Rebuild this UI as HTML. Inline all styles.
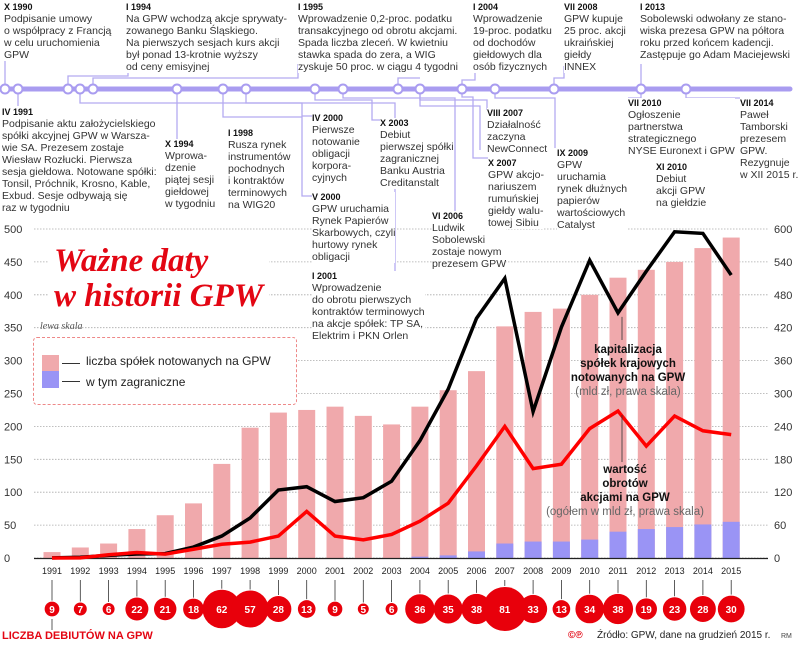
<!DOCTYPE html>
<html><head><meta charset="utf-8">
<style>
body{margin:0;width:805px;height:656px;overflow:hidden;background:#fff;font-family:"Liberation Sans",sans-serif;position:relative}
.b{position:absolute;font-size:10.5px;line-height:12px;color:#333;background:#fff;white-space:nowrap}
.b b{display:block;font-size:9px;color:#111;line-height:11px}
svg{position:absolute;left:0;top:0}
</style></head><body>
<svg id="chart" width="805" height="656"></svg>

<div class="b" style="left:4px;top:2px"><b>X 1990</b>Podpisanie umowy<br>o współpracy z Francją<br>w celu uruchomienia<br>GPW</div>
<div class="b" style="left:126px;top:2px"><b>I 1994</b>Na GPW wchodzą akcje sprywaty-<br>zowanego Banku Śląskiego.<br>Na pierwszych sesjach kurs akcji<br>był ponad 13-krotnie wyższy<br>od ceny emisyjnej</div>
<div class="b" style="left:298px;top:2px"><b>I 1995</b>Wprowadzenie 0,2-proc. podatku<br>transakcyjnego od obrotu akcjami.<br>Spada liczba zleceń. W kwietniu<br>stawka spada do zera, a WIG<br>zyskuje 50 proc. w ciągu 4 tygodni</div>
<div class="b" style="left:473px;top:2px"><b>I 2004</b>Wprowadzenie<br>19-proc. podatku<br>od dochodów<br>giełdowych dla<br>osób fizycznych</div>
<div class="b" style="left:564px;top:2px"><b>VII 2008</b>GPW kupuje<br>25 proc. akcji<br>ukraińskiej<br>giełdy<br>INNEX</div>
<div class="b" style="left:640px;top:2px"><b>I 2013</b>Sobolewski odwołany ze stano-<br>wiska prezesa GPW na półtora<br>roku przed końcem kadencji.<br>Zastępuje go Adam Maciejewski</div>

<div class="b" style="left:2px;top:107px"><b>IV 1991</b>Podpisanie aktu założycielskiego<br>spółki akcyjnej GPW w Warsza-<br>wie SA. Prezesem zostaje<br>Wiesław Rozłucki. Pierwsza<br>sesja giełdowa. Notowane spółki:<br>Tonsil, Próchnik, Krosno, Kable,<br>Exbud. Sesje odbywają się<br>raz w tygodniu</div>
<div class="b" style="left:165px;top:139px"><b>X 1994</b>Wprowa-<br>dzenie<br>piątej sesji<br>giełdowej<br>w tygodniu</div>
<div class="b" style="left:228px;top:128px"><b>I 1998</b>Rusza rynek<br>instrumentów<br>pochodnych<br>i kontraktów<br>terminowych<br>na WIG20</div>
<div class="b" style="left:312px;top:113px"><b>IV 2000</b>Pierwsze<br>notowanie<br>obligacji<br>korpora-<br>cyjnych</div>
<div class="b" style="left:312px;top:192px"><b>V 2000</b>GPW uruchamia<br>Rynek Papierów<br>Skarbowych, czyli<br>hurtowy rynek<br>obligacji</div>
<div class="b" style="left:312px;top:271px"><b>I 2001</b>Wprowadzenie<br>do obrotu pierwszych<br>kontraktów terminowych<br>na akcje spółek: TP SA,<br>Elektrim i PKN Orlen</div>
<div class="b" style="left:380px;top:118px"><b>X 2003</b>Debiut<br>pierwszej spółki<br>zagranicznej<br>Banku Austria<br>Creditanstalt</div>
<div class="b" style="left:432px;top:211px"><b>VI 2006</b>Ludwik<br>Sobolewski<br>zostaje nowym<br>prezesem GPW</div>
<div class="b" style="left:487px;top:108px"><b>VIII 2007</b>Działalność<br>zaczyna<br>NewConnect</div>
<div class="b" style="left:488px;top:158px"><b>X 2007</b>GPW akcjo-<br>nariuszem<br>rumuńskiej<br>giełdy walu-<br>towej Sibiu</div>
<div class="b" style="left:557px;top:148px"><b>IX 2009</b>GPW<br>uruchamia<br>rynek dłużnych<br>papierów<br>wartościowych<br>Catalyst</div>
<div class="b" style="left:628px;top:98px"><b>VII 2010</b>Ogłoszenie<br>partnerstwa<br>strategicznego<br>NYSE Euronext i GPW</div>
<div class="b" style="left:656px;top:162px"><b>XI 2010</b>Debiut<br>akcji GPW<br>na giełdzie</div>
<div class="b" style="left:740px;top:98px"><b>VII 2014</b>Paweł<br>Tamborski<br>prezesem<br>GPW.<br>Rezygnuje<br>w XII 2015 r.</div>

<div style="position:absolute;left:48px;top:244px;font-family:'Liberation Serif',serif;font-style:italic;font-weight:bold;color:#e30613;font-size:33px;line-height:35px;background:#fff;padding:0 6px">Ważne daty<br>w historii GPW</div>
<div style="position:absolute;left:40px;top:321px;font-family:'Liberation Serif',serif;font-style:italic;font-size:10px;color:#555">lewa skala</div>
<div style="position:absolute;left:33px;top:337px;width:262px;height:66px;border:1px dashed #e88;border-radius:4px;background:#fff">
 <div style="position:absolute;left:8px;top:17px;width:17px;height:16px;background:#f0a9ac"></div>
 <div style="position:absolute;left:8px;top:33px;width:17px;height:17px;background:#9a94f5"></div>
 <div style="position:absolute;left:28px;top:25px;width:18px;border-top:1px solid #333"></div>
 <div style="position:absolute;left:28px;top:43px;width:18px;border-top:1px solid #333"></div>
 <div style="position:absolute;left:52px;top:16px;font-size:12px;color:#222">liczba spółek notowanych na GPW</div>
 <div style="position:absolute;left:52px;top:37px;font-size:12px;color:#222">w tym zagraniczne</div>
</div>
<div style="position:absolute;left:558px;top:343px;width:140px;text-align:center;font-size:11.5px;line-height:14px;font-weight:bold;color:#111">kapitalizacja<br>spółek krajowych<br>notowanych na GPW<br><span style="font-weight:normal;color:#666">(mld zł, prawa skala)</span></div>
<div style="position:absolute;left:535px;top:463px;width:180px;text-align:center;font-size:11.5px;line-height:14px;font-weight:bold;color:#111">wartość<br>obrotów<br>akcjami na GPW<br><span style="font-weight:normal;color:#666">(ogółem w mld zł, prawa skala)</span></div>
<div style="position:absolute;left:2px;top:630px;font-size:11px;font-weight:bold;color:#e30613">LICZBA DEBIUTÓW NA GPW</div>
<div style="position:absolute;left:568px;top:630px;font-size:10px;color:#e30613;font-weight:bold">©℗</div>
<div style="position:absolute;left:597px;top:630px;font-size:10px;color:#222">Źródło: GPW, dane na grudzień 2015 r.</div>
<div style="position:absolute;left:781px;top:633px;font-size:7px;color:#444">RM</div>

<script>
const years=[1991,1992,1993,1994,1995,1996,1997,1998,1999,2000,2001,2002,2003,2004,2005,2006,2007,2008,2009,2010,2011,2012,2013,2014,2015];
const companies=[9,16,22,44,65,83,143,198,221,225,230,216,203,230,255,284,352,374,379,400,426,438,450,471,487];
const foreign=[0,0,0,0,0,0,0,0,0,0,0,0,0,2,4,10,22,25,25,28,40,44,47,51,55];
const capitalization=[0.2,1.4,4.8,7.3,8,20,40,73,124,130,103,110,140,214,308,437,510,267,421,543,447,523,595,592,516];
const turnover=[0,0.2,6,10,7,16,25,29,40,85,40,33,43,67,100,168,240,163,171,236,268,204,259,232,225];
const debuts=[9,7,6,22,21,18,62,57,28,13,9,5,6,36,35,38,81,33,13,34,38,19,23,28,30];
const leftTicks=[0,50,100,150,200,250,300,350,400,450,500];
const rightTicks=[0,60,120,180,240,300,360,420,480,540,600];
const timelineNodes=[5,18,68,80,93,177,223,246,315,343,398,420,462,495,554,641,686];

const NS="http://www.w3.org/2000/svg";
const svg=document.getElementById('chart');
const Y0=558,YT=229;
const yL=v=>Y0-(Y0-YT)*v/500;
const yR=v=>Y0-(Y0-YT)*v/600;
const xS=i=>52+i*28.3;
function mk(t,a){const e=document.createElementNS(NS,t);for(const k in a)e.setAttribute(k,a[k]);svg.appendChild(e);return e;}

leftTicks.forEach((t,i)=>{
  const g=mk('line',{x1:34,x2:768,y1:yL(t),y2:yL(t),stroke:'#aaa','stroke-width':0.8,'stroke-dasharray':'1.5,1.5'});
  
  
  const l=mk('text',{x:4,y:yL(t)+4,'font-size':11,fill:'#333'});l.textContent=t;
  
  
  const r=mk('text',{x:774,y:yR(rightTicks[i])+4,'font-size':11,fill:'#333'});r.textContent=rightTicks[i];
  
  
});
years.forEach((yr,i)=>{
  const x=xS(i)-8.5;
  const b=mk('rect',{x:x,y:yL(companies[i]),width:17,height:Y0-yL(companies[i]),fill:'#f0a9ac'});
  
  
  if(foreign[i]>0){const f=mk('rect',{x:x,y:yL(foreign[i]),width:17,height:Y0-yL(foreign[i]),fill:'#9a94f5'});
  
  }
});
const ax=mk('line',{x1:34,x2:768,y1:Y0+0.5,y2:Y0+0.5,stroke:'#222','stroke-width':1.2});


const cap=mk('polyline',{points:capitalization.map((v,i)=>xS(i)+','+yR(v)).join(' '),fill:'none',stroke:'#000','stroke-width':3.5,'stroke-linejoin':'miter'});


const tur=mk('polyline',{points:turnover.map((v,i)=>xS(i)+','+yR(v)).join(' '),fill:'none',stroke:'#f00','stroke-width':3.5});


mk('line',{x1:622,x2:622,y1:yR(capitalization[20])+4,y2:340,stroke:'#333','stroke-width':0.8});
mk('line',{x1:622,x2:622,y1:yR(turnover[20])+4,y2:462,stroke:'#333','stroke-width':0.8});
years.forEach((yr,i)=>{
  const x=xS(i);
  const t=mk('text',{x:x,y:574,'font-size':9,'text-anchor':'middle',fill:'#222'});t.textContent=yr;
  
  
  const r=2.45*Math.sqrt(debuts[i]);
  mk('line',{x1:x,x2:x,y1:580,y2:608-r,stroke:'#333','stroke-width':0.8});
  const c=mk('circle',{cx:x,cy:609,r:r,fill:'#e8000b'});
  
  
  const n=mk('text',{x:x,y:613,'font-size':10,'font-weight':'bold','text-anchor':'middle',fill:'#fff'});n.textContent=debuts[i];
  
  
});
mk('line',{x1:52,x2:52,y1:619,y2:630,stroke:'#333','stroke-width':0.8});

const C='#b4aaf0';
const paths=["M5 89V20","M18 89V106","M68 89V76H128V66","M80 89V103H395V273H340","M93 89V78H298V64",
"M177 89V139","M223 89V117H302V196H312","M246 89V103H302V116H312","M315 89V100H372V120H380",
"M343 89V98H455V211","M420 89V106H480V150","M462 89V80H475V65","M495 89V98H555V148",
"M462 89V97H473V158H488","M398 89V78H420","M554 89V78H564V66","M641 89V64","M641 89V98H628","M686 89V98H740","M420 89V100H487V110"];
paths.forEach(d=>{const p=mk('path',{d:d,fill:'none',stroke:C,'stroke-width':1.3});

});
const tl=mk('line',{x1:4,x2:790,y1:89,y2:89,stroke:'#a99cf0','stroke-width':5,'stroke-linecap':'round'});


timelineNodes.forEach(x=>{const c=mk('circle',{cx:x,cy:89,r:4.5,fill:'#fff',stroke:'#a99cf0','stroke-width':2});

});
</script>
</body></html>
